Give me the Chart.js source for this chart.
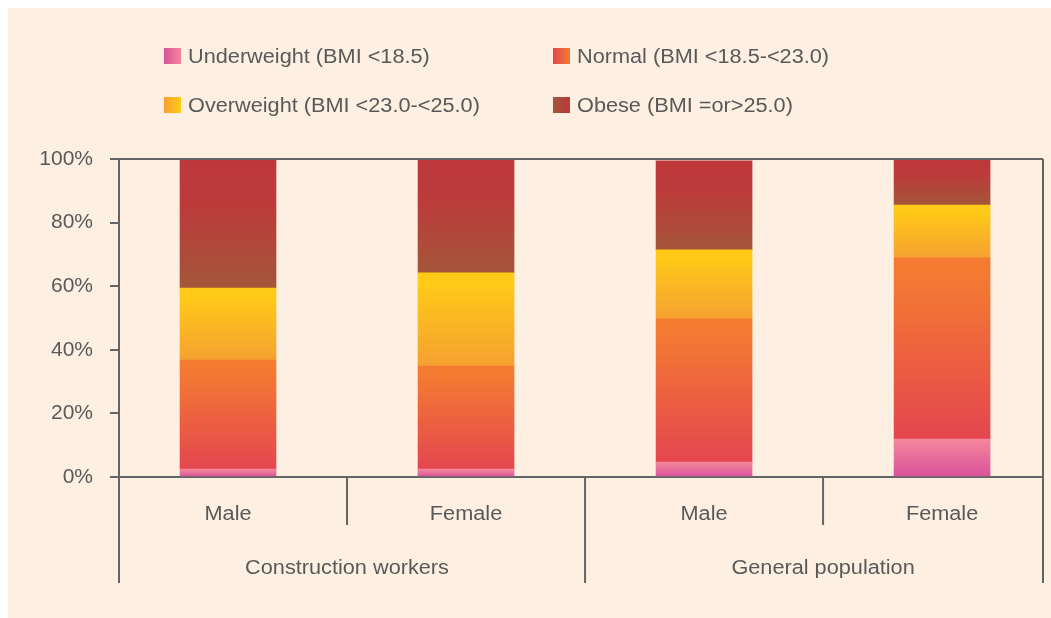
<!DOCTYPE html>
<html>
<head>
<meta charset="utf-8">
<script src="https://cdn.jsdelivr.net/npm/chart.js@4.4.1/dist/chart.umd.min.js"></script>
<style>
  html, body { margin: 0; padding: 0; background: #ffffff; }
  #wrap { position: absolute; left: 8px; top: 8px; width: 1043px; height: 610px; background: #fdf0e2; }
</style>
</head>
<body>
<div id="wrap"><canvas id="chart" width="1043" height="610"></canvas></div>
<script>
// categories and groups
const categories = ['Male', 'Female', 'Male', 'Female'];
const groups = ['Construction workers', 'General population'];
const groupOf = [0, 0, 1, 1];

// % of each BMI class (bottom to top)
const underweight = [2.5, 2.5, 4.7, 11.9];
const normal = [34.3, 32.4, 45.0, 57.0];
const overweight = [22.6, 29.3, 21.7, 16.6];
const obese = [40.6, 35.8, 28.0, 14.5];

const seriesNames = [
  'Underweight (BMI <18.5)',
  'Normal (BMI <18.5-<23.0)',
  'Overweight (BMI <23.0-<25.0)',
  'Obese (BMI =or>25.0)'
];
const yTicks = [0, 20, 40, 60, 80, 100];

// gradient stops, top of segment -> bottom of segment
const gradStops = [
  [[0, '#f4879c'], [1, '#d9529a']],
  [[0, '#f47b30'], [0.1, '#f47a32'], [1, '#e4464f']],
  [[0, '#ffcb17'], [0.12, '#ffca18'], [1, '#f5a131']],
  [[0, '#bd383b'], [0.35, '#bc3b3b'], [1, '#a4563a']]
];

const allSeries = [underweight, normal, overweight, obese];
const lineColor = '#646464';
const textColor = '#595959';
const textFont = '20px "Liberation Sans", Arial, sans-serif';
const stretch = 1.085; // the source text is a little wide

Chart.defaults.font.family = '"Liberation Sans", Arial, sans-serif';
Chart.defaults.font.size = 20;
Chart.defaults.color = textColor;

function wideText(c, text, x, y) {
  c.save();
  c.translate(x, y);
  c.scale(stretch, 1);
  c.fillText(text, 0, 0);
  c.restore();
}

function segmentGradient(ctx, s) {
  const chart = ctx.chart;
  if (!chart.chartArea || ctx.dataIndex === undefined) return gradStops[s][0][1];
  const i = ctx.dataIndex;
  let base = 0;
  for (let k = 0; k < s; k++) base += allSeries[k][i];
  const y = chart.scales.y;
  const top = y.getPixelForValue(base + allSeries[s][i]);
  const bot = y.getPixelForValue(base);
  const g = chart.ctx.createLinearGradient(0, top, 0, bot);
  gradStops[s].forEach(st => g.addColorStop(st[0], st[1]));
  return g;
}

const legendPlugin = {
  id: 'gridLegend',
  afterDraw(chart) {
    const c = chart.ctx;
    const cols = [156, 545];
    const rows = [48, 97];
    c.save();
    c.font = textFont;
    c.textBaseline = 'middle';
    c.textAlign = 'left';
    seriesNames.forEach((name, s) => {
      const x = cols[s % 2];
      const y = rows[Math.floor(s / 2)];
      const g = c.createLinearGradient(x, 0, x + 17, 0);
      const st = gradStops[s];
      g.addColorStop(0, st[st.length - 1][1]);
      g.addColorStop(1, st[0][1]);
      c.fillStyle = g;
      c.fillRect(x, y - 8, 17, 16);
      c.fillStyle = textColor;
      wideText(c, name, x + 24, y + 1);
    });
    c.restore();
  }
};

const framePlugin = {
  id: 'frame',
  afterDraw(chart) {
    const c = chart.ctx;
    const a = chart.chartArea;
    const x = chart.scales.x;
    const longDrop = 106, shortDrop = 48;
    c.save();
    c.strokeStyle = lineColor;
    c.lineWidth = 2;
    c.beginPath();
    // top and right of the box
    c.moveTo(a.left, a.top);
    c.lineTo(a.right, a.top);
    c.moveTo(a.right, a.top);
    c.lineTo(a.right, a.bottom + longDrop);
    c.moveTo(a.left, a.bottom);
    c.lineTo(a.left, a.bottom + longDrop);
    for (let i = 0; i < categories.length - 1; i++) {
      const px = x.getPixelForValue(i + 0.5);
      const drop = groupOf[i] !== groupOf[i + 1] ? longDrop : shortDrop;
      c.moveTo(px, a.bottom);
      c.lineTo(px, a.bottom + drop);
    }
    c.stroke();

    c.fillStyle = textColor;
    c.font = textFont;
    c.textAlign = 'center';
    c.textBaseline = 'middle';
    categories.forEach((name, i) => {
      wideText(c, name, x.getPixelForValue(i), a.bottom + 37);
    });
    groups.forEach((name, g) => {
      const idx = groupOf.map((v, i) => v === g ? i : null).filter(v => v !== null);
      const mid = (idx[0] + idx[idx.length - 1]) / 2;
      wideText(c, name, x.getPixelForValue(mid), a.bottom + 91);
    });
    c.restore();
  }
};

new Chart(document.getElementById('chart'), {
  type: 'bar',
  data: {
    datasets: allSeries.map((vals, s) => ({
      label: seriesNames[s],
      data: vals.map((v, i) => ({ x: i, y: v })),
      backgroundColor: (ctx) => segmentGradient(ctx, s),
      borderWidth: 0,
      barThickness: 96
    }))
  },
  options: {
    responsive: false,
    animation: false,
    layout: { padding: { top: 151, right: 8, left: 0, bottom: 0 } },
    plugins: { legend: { display: false }, tooltip: { enabled: false } },
    scales: {
      x: {
        type: 'linear',
        stacked: true,
        offset: false,
        min: -0.458,
        max: 3.424,
        grid: { display: false, drawTicks: false },
        ticks: { display: false },
        border: { display: true, color: lineColor, width: 2 },
        afterFit(scale) { scale.height = 141; }
      },
      y: {
        stacked: true,
        min: 0,
        max: 100,
        grid: { display: true, drawOnChartArea: false, drawTicks: true, tickLength: 9, color: lineColor, lineWidth: 2 },
        border: { display: true, color: lineColor, width: 2 },
        afterBuildTicks(scale) { scale.ticks = yTicks.map(v => ({ value: v })); },
        ticks: { padding: 17, color: textColor, font: { size: 21 }, callback: v => v + '%' },
        afterFit(scale) { scale.width = 111; }
      }
    }
  },
  plugins: [legendPlugin, framePlugin]
});
</script>
</body>
</html>
